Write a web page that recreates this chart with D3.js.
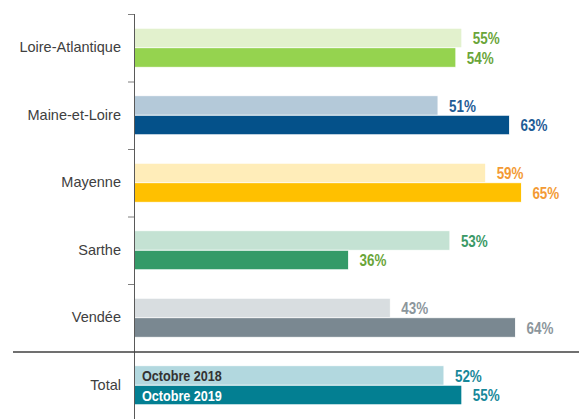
<!DOCTYPE html>
<html>
<head>
<meta charset="utf-8">
<script src="https://cdn.jsdelivr.net/npm/d3@7"></script>
<style>
  body { margin: 0; background: #fff; }
  svg { display: block; }
</style>
</head>
<body>
<svg id="chart"></svg>
<script>
const w = 579;
const h = 419;

// data
const categories = ['Loire-Atlantique', 'Maine-et-Loire', 'Mayenne', 'Sarthe', 'Vendée', 'Total'];
const periods = ['Octobre 2018', 'Octobre 2019'];
const values2018 = [55, 51, 59, 53, 43, 52];
const values2019 = [54, 63, 65, 36, 64, 55];

// colours per category: [light bar, dark bar], [label 2018, label 2019]
const barColors = [
  ['#e2f1cd', '#95d34f'],
  ['#b4c9d9', '#04518a'],
  ['#ffedb9', '#ffc000'],
  ['#c4e2d3', '#349a68'],
  ['#d8dde0', '#7a8891'],
  ['#b2d8df', '#037f92']
];
const labelColors = [
  ['#6aa539', '#6aa539'],
  ['#1f5c96', '#1f5c96'],
  ['#f39a34', '#f39a34'],
  ['#3a9966', '#6aa539'],
  ['#8c969c', '#8c969c'],
  ['#17889a', '#17889a']
];

const axisX = 134;
// no narrow font installed: squeeze bold Liberation Sans horizontally
const font = '"Liberation Sans", Arial, sans-serif';

const svg = d3.select('#chart')
    .attr('width', w)
    .attr('height', h);

const yScale = d3.scaleBand()
    .domain(categories)
    .range([14, 419]);

const inner = d3.scaleBand()
    .domain(periods)
    .range([0, yScale.bandwidth()])
    .paddingOuter(0.73);

const xScale = d3.scaleLinear()
    .domain([0, 100])
    .range([axisX, axisX + 596]);

const rows = categories.map((c, i) => ({
  cat: c, i: i,
  bars: [
    {p: periods[0], v: values2018[i], fill: barColors[i][0], lab: labelColors[i][0]},
    {p: periods[1], v: values2019[i], fill: barColors[i][1], lab: labelColors[i][1]}
  ]
}));

const groups = svg.selectAll('g.row')
    .data(rows)
    .enter()
    .append('g')
    .attr('class', 'row')
    .attr('transform', (d) => 'translate(0,' + yScale(d.cat) + ')');

groups.selectAll('rect')
    .data((d) => d.bars)
    .enter()
    .append('rect')
    .attr('x', xScale(0))
    .attr('y', (d) => inner(d.p))
    .attr('width', (d) => xScale(d.v) - xScale(0))
    .attr('height', inner.bandwidth())
    .attr('fill', (d) => d.fill)
    .attr('stroke', '#ffffff')
    .attr('stroke-width', 0.8);

groups.selectAll('text.val')
    .data((d) => d.bars)
    .enter()
    .append('text')
    .attr('class', 'val')
    .attr('transform', (d) => 'translate(' + (xScale(d.v) + 11) + ',' + (inner(d.p) + inner.bandwidth() / 2 + 0.5) + ') scale(0.84,1)')
    .attr('dy', '0.36em')
    .attr('fill', (d) => d.lab)
    .style('font-family', font)
    .style('font-weight', 'bold')
    .style('font-size', '16px')
    .text((d) => d.v + '%');

// legend text written inside the Total bars
const totalRow = groups.filter((d) => d.cat === 'Total');
totalRow.selectAll('text.leg')
    .data(periods)
    .enter()
    .append('text')
    .attr('class', 'leg')
    .attr('transform', (d) => 'translate(' + (axisX + 8) + ',' + (inner(d) + inner.bandwidth() / 2 + 0.5) + ') scale(0.87,1)')
    .attr('dy', '0.36em')
    .attr('fill', (d, i) => i === 0 ? '#333333' : '#ffffff')
    .style('font-family', font)
    .style('font-weight', 'bold')
    .style('font-size', '14.5px')
    .text((d) => d);

// category axis
const yAxis = d3.axisLeft(yScale).tickSize(0).tickPadding(13);
const axisG = svg.append('g')
    .attr('transform', 'translate(' + axisX + ',0)')
    .call(yAxis);
axisG.select('.domain').remove();
axisG.selectAll('text')
    .attr('fill', '#404040')
    .style('font-family', font)
    .style('font-size', '14.5px');

// boundary ticks between departments
svg.selectAll('line.tick')
    .data(categories.slice(0, 5))
    .enter()
    .append('line')
    .attr('class', 'tick')
    .attr('x1', axisX - 6)
    .attr('x2', axisX)
    .attr('y1', (d) => yScale(d) + 0.5)
    .attr('y2', (d) => yScale(d) + 0.5)
    .attr('stroke', '#7f7f7f')
    .attr('stroke-width', 1);

svg.append('line')
    .attr('x1', axisX + 0.5)
    .attr('x2', axisX + 0.5)
    .attr('y1', yScale.range()[0])
    .attr('y2', h)
    .attr('stroke', '#595959')
    .attr('stroke-width', 1);

// separator above Total
svg.append('line')
    .attr('x1', 13)
    .attr('x2', w)
    .attr('y1', yScale('Total') + 0.5)
    .attr('y2', yScale('Total') + 0.5)
    .attr('stroke', '#404040')
    .attr('stroke-width', 1.3);
</script>
</body>
</html>
